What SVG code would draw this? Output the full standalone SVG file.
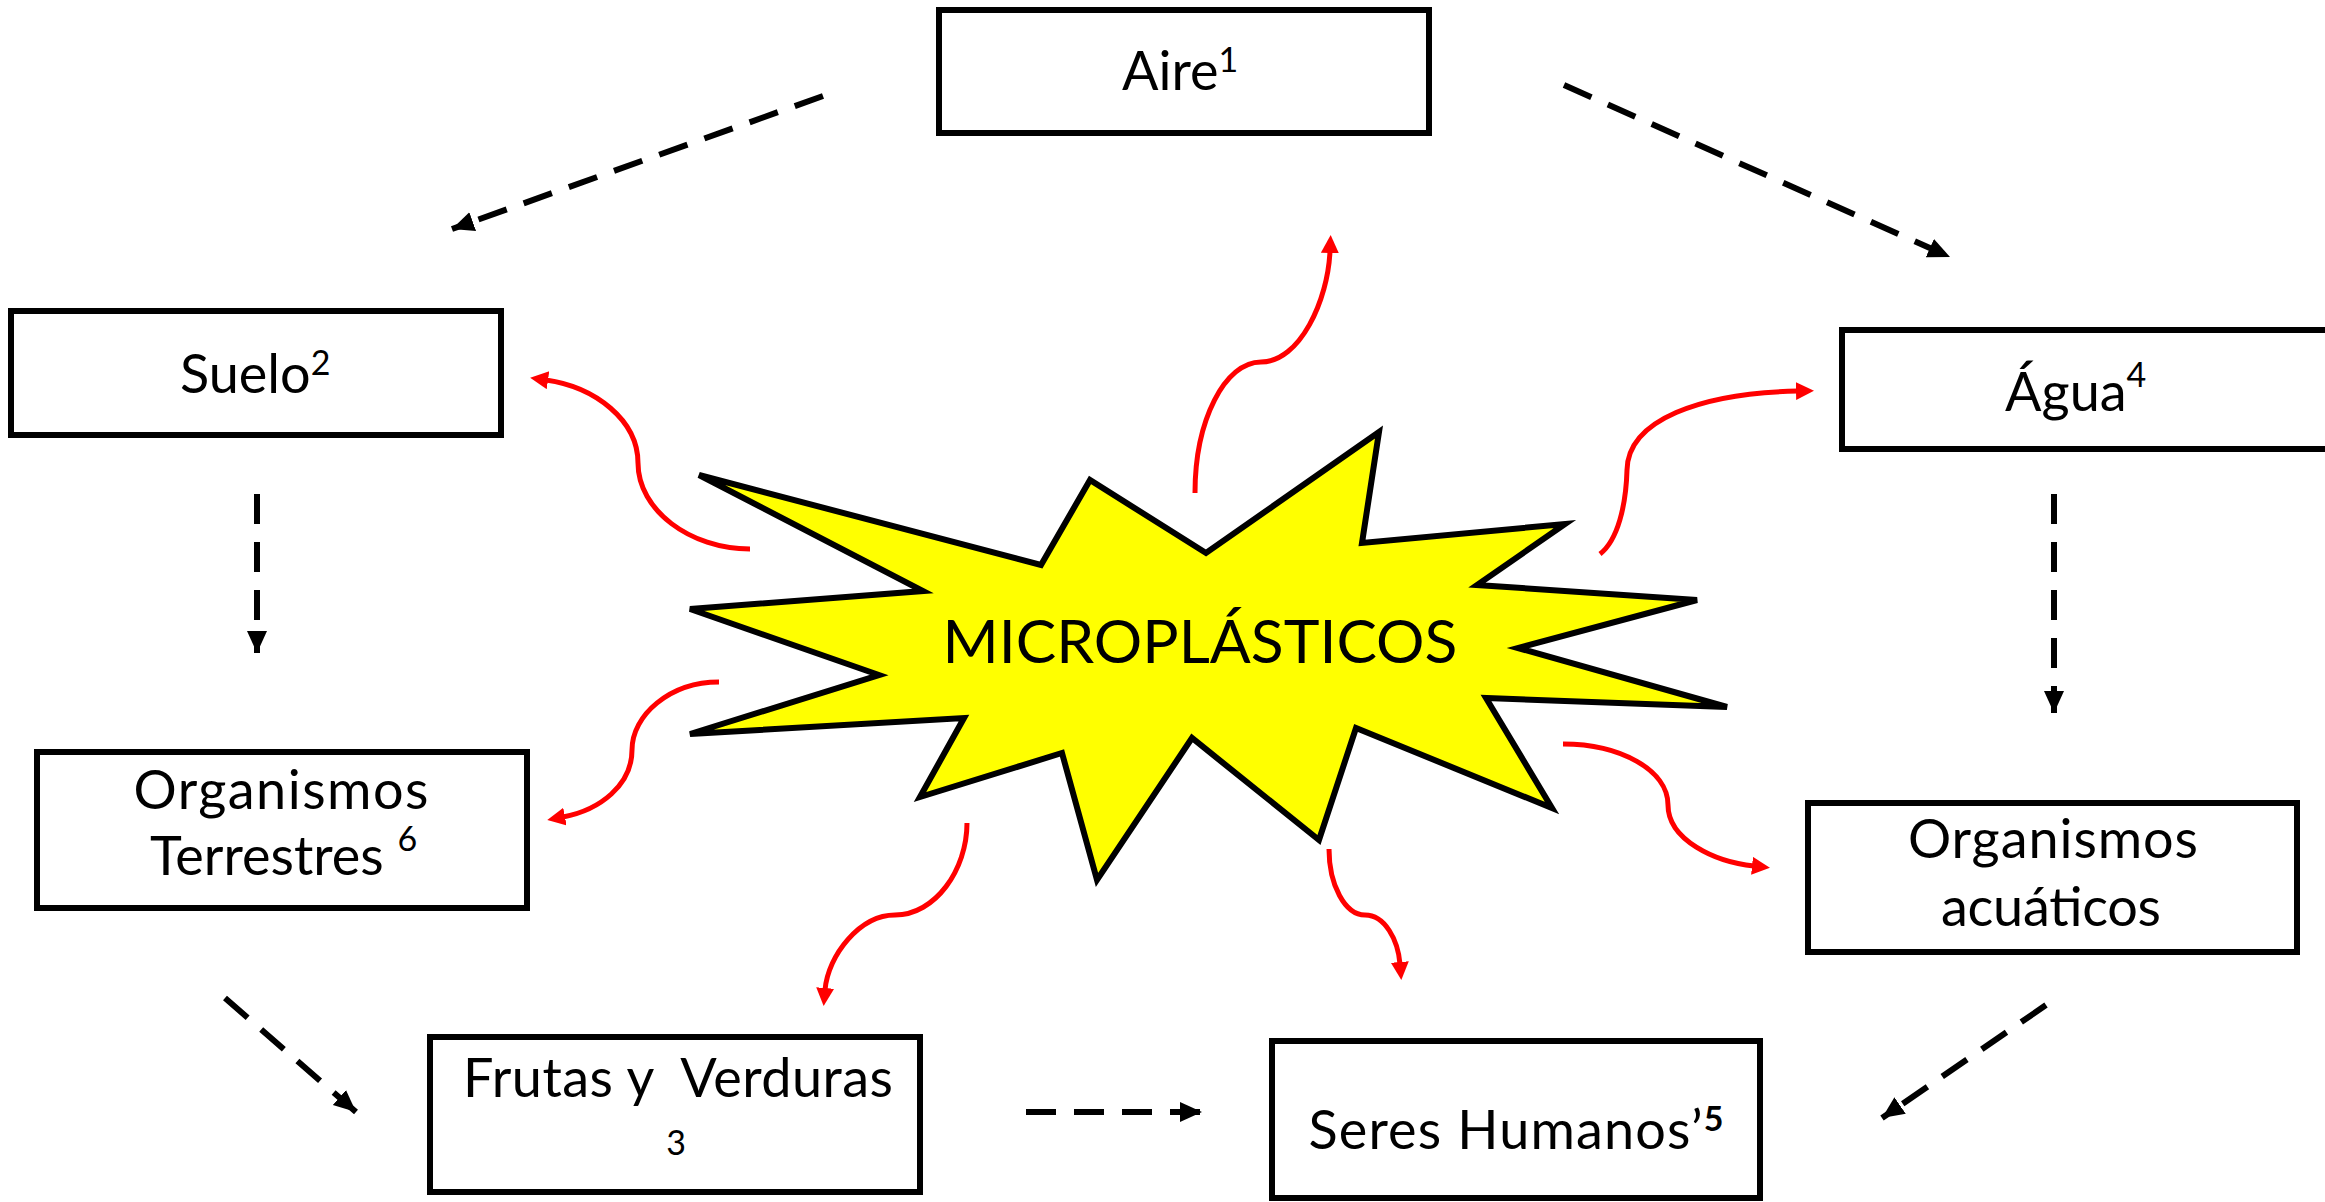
<svg xmlns="http://www.w3.org/2000/svg" width="2325" height="1202" viewBox="0 0 2325 1202">
<style>
.box{fill:#fff;stroke:#000;stroke-width:6}
.t{font-family:Lato,"Open Sans","Liberation Sans",sans-serif;font-size:54px;fill:#000;white-space:pre}
.sup{font-size:34px}
.dash{fill:none;stroke:#000;stroke-width:6;stroke-dasharray:30 18;marker-end:url(#ab)}
.red{fill:none;stroke:#f00;stroke-width:5;marker-end:url(#ar)}
</style>
<defs>
<marker id="ab" markerUnits="userSpaceOnUse" markerWidth="26" markerHeight="22" refX="22" refY="11" orient="auto">
<path d="M0,1 L22,11 L0,21 Z" fill="#000"/>
</marker>
<marker id="ar" markerUnits="userSpaceOnUse" markerWidth="22" markerHeight="20" refX="2" refY="9" orient="auto">
<path d="M0,0 L18,9 L0,18 Z" fill="#f00"/>
</marker>
</defs>
<rect width="2325" height="1202" fill="#fff"/>

<g id="connectors">
<path class="dash" d="M823,96 L452,229"/>
<path class="dash" d="M1564,85 L1950,257"/>
<path class="dash" d="M257,494 L257,653"/>
<path class="dash" d="M2054,494 L2054,713"/>
<path class="dash" d="M225,998 L356,1112"/>
<path class="dash" d="M1026,1112 L1202,1112"/>
<path class="dash" d="M2046,1005 L1882,1118"/>
<path class="red" d="M750,549 C690,549 638,510 638,463 C638,420 595,387 546,380"/>
<path class="red" d="M1195,493 C1195,420 1225,362 1261,362 C1300,362 1328,300 1330,251"/>
<path class="red" d="M1600,554 C1618,540 1626,505 1627,470 C1628,420 1700,393 1798,391"/>
<path class="red" d="M719,682 C670,682 632,715 632,750 C632,785 600,810 563,817"/>
<path class="red" d="M967,823 C967,870 935,915 895,915 C860,915 828,955 825,990"/>
<path class="red" d="M1329,849 C1329,885 1345,915 1365,915 C1385,915 1398,940 1400,964"/>
<path class="red" d="M1563,744 C1620,744 1668,770 1668,805 C1668,840 1715,862 1754,866"/>
</g>

<g id="microplasticos">
<polygon points="699,475 1041,565 1090,480 1206,553 1379,432 1362,543 1565,524 1477,585 1697,600 1518,648 1727,707 1486,698 1552,808 1356,728 1319,840 1192,738 1097,880 1062,753 920,797 964,718 690,734 879,675 690,609 923,591" fill="#ff0" stroke="#000" stroke-width="6" stroke-linejoin="miter"/>
<text class="t" x="1200" y="663" text-anchor="middle" style="font-size:60px" textLength="515" lengthAdjust="spacingAndGlyphs">MICROPLÁSTICOS</text>
</g>

<g id="aire">
<rect class="box" x="939" y="10" width="490" height="123"/>
<text class="t" x="1122" y="90">Aire<tspan class="sup" dy="-18">1</tspan></text>
</g>

<g id="suelo">
<rect class="box" x="11" y="311" width="490" height="124"/>
<text class="t" x="180" y="393">Suelo<tspan class="sup" dy="-18">2</tspan></text>
</g>

<g id="agua">
<rect class="box" x="1842" y="330" width="490" height="119"/>
<text class="t" x="2005" y="411">Água<tspan class="sup" dy="-24">4</tspan></text>
</g>

<g id="organismos-terrestres">
<rect class="box" x="37" y="752" width="490" height="156"/>
<text class="t" x="281" y="809" text-anchor="middle" textLength="295">Organismos</text>
<text class="t" x="150" y="875">Terrestres <tspan class="sup" dy="-24">6</tspan></text>
</g>

<g id="organismos-acuaticos">
<rect class="box" x="1808" y="803" width="489" height="149"/>
<text class="t" x="2053" y="858" text-anchor="middle" textLength="290">Organismos</text>
<text class="t" x="2051" y="926" text-anchor="middle" textLength="220">acuáticos</text>
</g>

<g id="frutas-verduras">
<rect class="box" x="430" y="1037" width="490" height="155"/>
<text class="t" x="678" y="1097" text-anchor="middle" textLength="430">Frutas y  Verduras</text>
<text class="t" x="676" y="1155" text-anchor="middle" style="font-size:34px">3</text>
</g>

<g id="seres-humanos">
<rect class="box" x="1272" y="1041" width="488" height="157"/>
<text class="t" x="1516" y="1149" text-anchor="middle" textLength="415">Seres Humanos’<tspan class="sup" font-weight="bold" dy="-18">5</tspan></text>
</g>
</svg>
